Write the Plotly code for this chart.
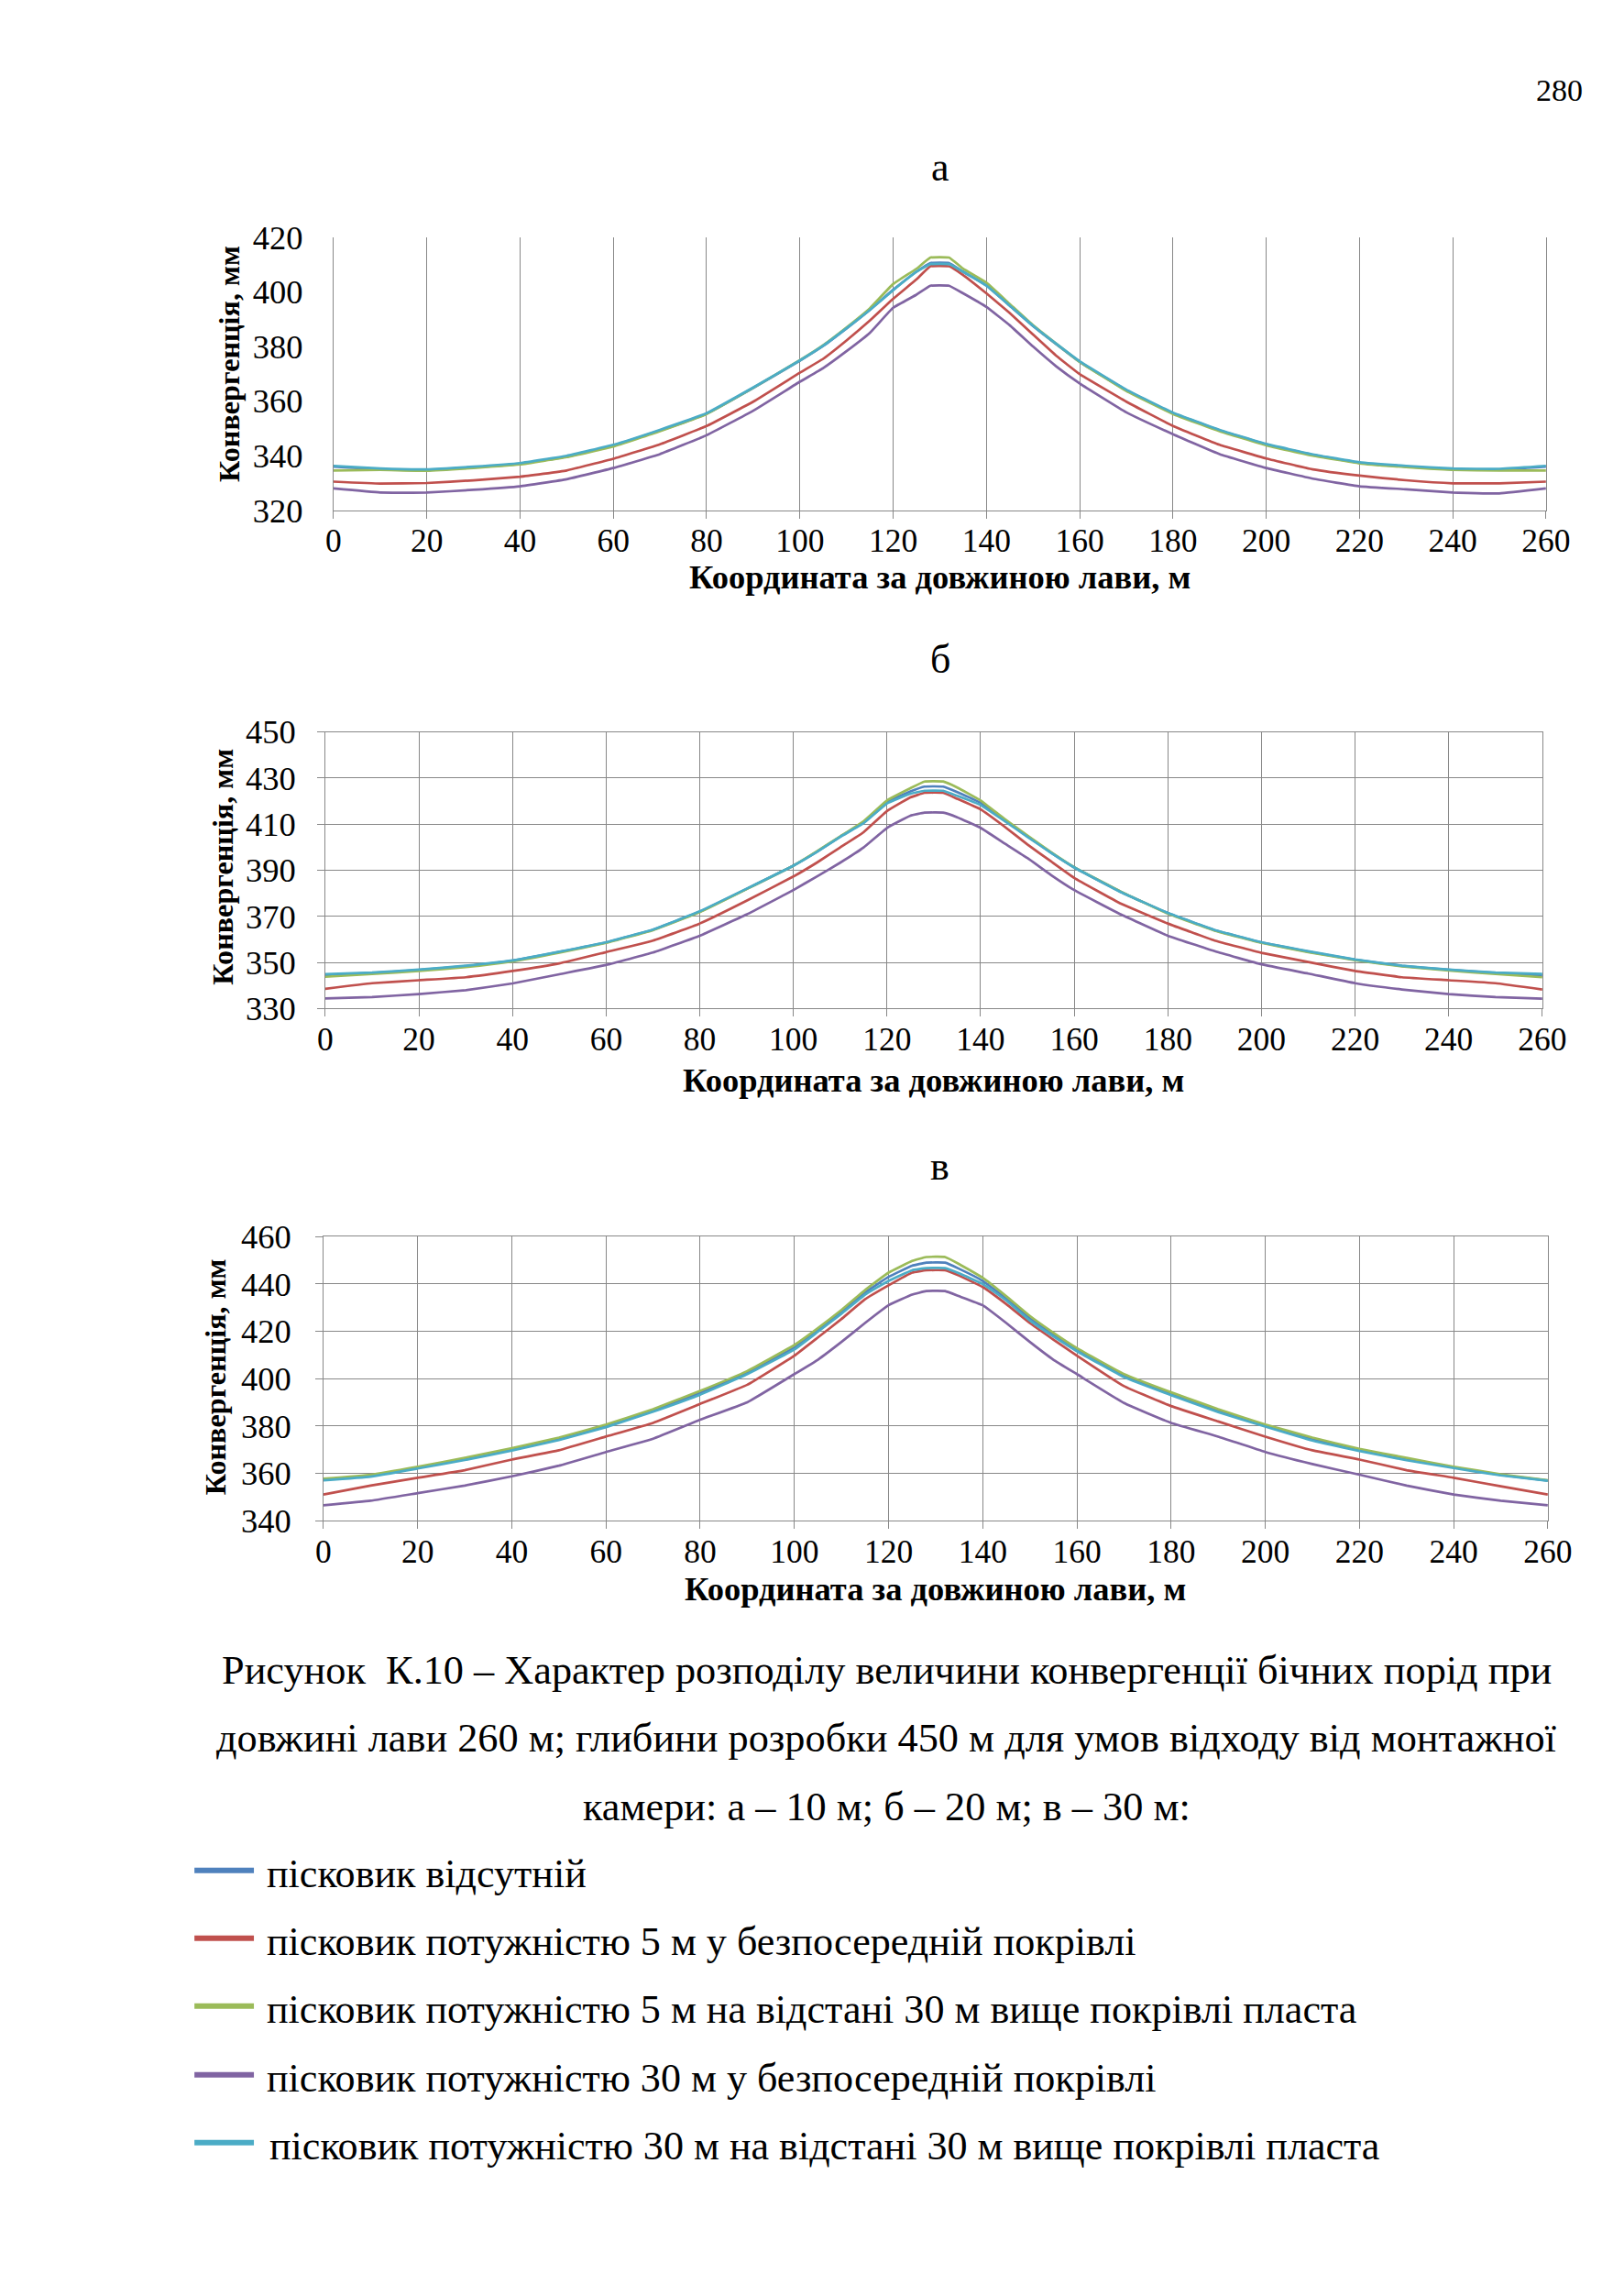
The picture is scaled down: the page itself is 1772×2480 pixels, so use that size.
import plotly.graph_objects as go

# page (viewport) size; the browser body keeps its default 8px margin
PAGE_W, PAGE_H = 1772, 2480
BODY_MARGIN = 8
W, H = PAGE_W - 2 * BODY_MARGIN, PAGE_H - 2 * BODY_MARGIN

# ---------------- data ----------------
x_coord = [0, 10, 20, 30, 40, 50, 60, 70, 80, 90, 100, 105, 110, 115, 120, 125, 128, 132,
           135, 140, 145, 150, 155, 160, 170, 180, 190, 200, 210, 220, 230, 240, 250, 260]

series_names = [
    "пісковик відсутній",
    "пісковик потужністю 5 м у безпосередній покрівлі",
    "пісковик потужністю 5 м на відстані 30 м вище покрівлі пласта",
    "пісковик потужністю 30 м у безпосередній покрівлі",
    "пісковик потужністю 30 м на відстані 30 м вище покрівлі пласта",
]
series_colors = ["#4F81BD", "#C0504D", "#9BBB59", "#8064A2", "#4BACC6"]

# chart а (10 m)
a_blue   = [336.0, 335.0, 334.7, 335.7, 337.0, 339.7, 343.7, 349.2, 355.4, 364.8, 374.8, 380.2, 386.6, 393.4, 400.8, 407.4, 410.6, 410.6, 407.4, 402.4, 395.0, 387.5, 380.8, 374.4, 364.0, 355.6, 349.3, 344.1, 340.3, 337.4, 336.0, 335.0, 334.9, 336.0]
a_red    = [330.5, 329.8, 330.0, 331.0, 332.3, 334.6, 338.9, 344.2, 350.9, 359.8, 370.4, 375.5, 382.2, 389.5, 397.5, 404.6, 409.4, 409.4, 406.2, 399.5, 392.3, 384.4, 376.6, 369.9, 359.8, 350.9, 344.0, 339.0, 335.0, 332.7, 331.0, 329.9, 329.9, 330.5]
a_green  = [334.6, 334.8, 334.5, 335.5, 336.8, 339.5, 343.4, 349.0, 355.3, 364.9, 375.0, 380.5, 387.0, 394.0, 402.9, 408.5, 412.6, 412.6, 408.5, 403.4, 395.6, 387.8, 381.0, 374.4, 363.7, 355.3, 349.0, 343.8, 340.0, 337.2, 335.8, 334.8, 334.6, 334.6]
a_purple = [328.0, 326.5, 326.5, 327.5, 328.8, 331.4, 335.5, 340.6, 347.5, 356.5, 367.1, 372.1, 378.3, 385.0, 394.2, 399.0, 402.3, 402.3, 399.5, 394.5, 387.8, 380.0, 372.7, 366.5, 355.9, 347.9, 340.6, 335.5, 331.6, 328.8, 327.7, 326.5, 326.2, 328.0]
a_cyan   = [336.3, 335.3, 335.0, 336.0, 337.3, 340.0, 344.0, 349.5, 355.6, 365.0, 374.9, 380.3, 386.7, 393.4, 400.6, 407.4, 410.2, 410.2, 407.4, 402.3, 395.0, 387.6, 381.0, 374.6, 364.2, 355.8, 349.5, 344.3, 340.5, 337.6, 336.3, 335.3, 335.2, 336.3]

# chart б (20 m)
b_blue   = [344.5, 345.4, 346.7, 348.4, 350.8, 354.6, 358.7, 364.2, 372.0, 381.9, 392.0, 398.0, 404.6, 410.8, 419.6, 424.2, 426.3, 426.3, 423.9, 419.2, 411.9, 404.8, 397.7, 391.2, 380.6, 371.4, 364.0, 358.7, 354.7, 351.2, 348.5, 346.8, 345.4, 344.4]
b_red    = [338.6, 341.0, 342.3, 343.6, 346.3, 349.6, 354.5, 359.5, 366.9, 376.8, 387.3, 393.3, 399.9, 406.5, 415.7, 421.6, 423.6, 423.6, 421.0, 416.4, 409.1, 401.2, 393.9, 386.7, 375.5, 366.9, 359.5, 354.2, 350.2, 346.3, 343.6, 342.3, 341.0, 338.3]
b_green  = [343.8, 345.0, 346.3, 348.0, 350.5, 354.3, 358.5, 364.0, 371.8, 381.8, 392.0, 398.2, 404.7, 411.3, 420.3, 425.6, 428.5, 428.5, 425.9, 420.3, 412.4, 405.1, 397.9, 391.3, 380.7, 371.2, 363.8, 358.5, 354.5, 351.0, 348.3, 346.5, 345.0, 343.6]
b_purple = [334.4, 335.0, 336.3, 338.0, 340.9, 344.9, 348.9, 354.3, 361.6, 370.8, 381.4, 387.3, 393.3, 399.9, 408.4, 413.7, 415.0, 415.0, 413.0, 408.4, 401.8, 395.3, 388.0, 381.4, 370.8, 361.6, 354.9, 349.2, 345.2, 341.0, 338.3, 336.3, 335.0, 334.3]
b_cyan   = [344.9, 345.6, 346.9, 348.6, 350.9, 354.7, 358.8, 364.3, 372.2, 382.0, 392.0, 397.9, 404.5, 410.4, 419.0, 423.2, 424.5, 424.5, 422.3, 418.3, 411.5, 404.5, 397.6, 391.2, 380.5, 371.5, 364.1, 358.8, 354.9, 351.3, 348.6, 346.9, 345.6, 345.0]

# chart в (30 m)
c_blue   = [357.3, 359.0, 362.4, 366.0, 370.1, 374.5, 380.0, 386.5, 394.0, 402.5, 413.2, 420.5, 428.2, 436.4, 443.0, 447.7, 449.0, 449.0, 446.4, 441.3, 433.9, 425.5, 418.6, 412.2, 401.2, 393.6, 386.4, 380.1, 374.4, 369.8, 366.0, 362.5, 359.3, 356.9]
c_red    = [351.0, 354.8, 358.1, 361.3, 365.8, 369.7, 375.5, 381.3, 389.3, 397.4, 409.7, 417.4, 425.2, 433.5, 439.4, 444.8, 445.8, 445.8, 443.5, 438.7, 431.5, 423.5, 416.5, 409.7, 396.8, 388.4, 381.9, 375.5, 369.7, 365.8, 361.3, 358.1, 354.5, 351.0]
c_green  = [357.7, 359.4, 362.8, 366.5, 370.6, 375.1, 380.6, 387.1, 394.8, 403.2, 414.2, 421.3, 429.0, 437.4, 444.8, 449.7, 451.4, 451.4, 448.4, 442.6, 434.8, 426.5, 419.4, 412.9, 401.9, 394.2, 387.1, 380.6, 375.1, 370.3, 366.5, 362.8, 359.6, 357.0]
c_purple = [346.5, 348.4, 351.6, 354.8, 358.7, 363.2, 369.0, 374.6, 382.6, 390.0, 401.9, 408.0, 415.5, 423.5, 431.0, 435.5, 437.0, 437.0, 434.8, 431.0, 423.5, 415.5, 408.0, 401.9, 389.7, 381.3, 375.5, 369.0, 363.9, 359.4, 354.8, 351.0, 348.4, 346.5]
c_cyan   = [357.0, 358.6, 362.0, 365.6, 369.6, 374.0, 379.5, 386.0, 393.2, 401.9, 412.3, 419.8, 427.4, 435.5, 441.3, 445.8, 446.7, 446.7, 444.5, 440.0, 433.0, 424.6, 417.8, 411.6, 400.6, 393.0, 385.8, 379.7, 373.8, 369.4, 365.5, 362.2, 359.1, 356.8]

x_ticks = list(range(0, 261, 20))
y_ranges = [(320, 420), (330, 450), (340, 460)]
panel_letters = ["а", "б", "в"]
x_title = "Координата за довжиною лави, м"
y_title = "Конвергенція, мм"
caption_lines = [
    "Рисунок  К.10 – Характер розподілу величини конвергенції бічних порід при",
    "довжині лави 260 м; глибини розробки 450 м для умов відходу від монтажної",
    "камери: а – 10 м; б – 20 м; в – 30 м:",
]
page_number = "280"

# ---------------- layout helpers (target picture pixels -> paper) ----------------
# the captured picture is slightly scaled relative to the page; compensate
SX, OX = 0.981, 6.7
SY, OY = 0.984, 20.0

def fx(t):
    return ((t - OX) / SX - BODY_MARGIN) / W

def fy(t):
    return 1 - ((t - OY) / SY - BODY_MARGIN) / H

FONT = "Liberation Serif"
GRID = "#888888"

panels = [
    dict(data=[a_blue, a_red, a_green, a_purple, a_cyan], xpx=(362, 1687), ypx=(259, 557),
         hgrid=False, ystand=25, letter_y=182, xt_y=630, yt_x=248, yt_y=397),
    dict(data=[b_blue, b_red, b_green, b_purple, b_cyan], xpx=(353, 1683), ypx=(799, 1101),
         hgrid=True, ystand=16, letter_y=720, xt_y=1179, yt_x=240, yt_y=946),
    dict(data=[c_blue, c_red, c_green, c_purple, c_cyan], xpx=(351, 1689), ypx=(1350, 1660),
         hgrid=True, ystand=19, letter_y=1273, xt_y=1734, yt_x=233, yt_y=1503),
]

fig = go.Figure()
annotations = []
shapes = []

for i, p in enumerate(panels):
    n = "" if i == 0 else str(i + 1)
    xa, ya = "x" + n, "y" + n
    for k, ys in enumerate(p["data"]):
        fig.add_trace(go.Scatter(x=x_coord, y=ys, mode="lines", name=series_names[k],
                                 line=dict(color=series_colors[k], width=2.7, shape="spline", smoothing=0.3),
                                 xaxis=xa, yaxis=ya, showlegend=False))
    x0, x1 = p["xpx"]
    y0, y1 = p["ypx"]
    full = p["hgrid"]
    yr = y_ranges[i]
    fig.layout["xaxis" + n] = dict(
        domain=[fx(x0), fx(x1)], range=[0, 260], anchor=ya,
        tickvals=x_ticks, ticktext=[str(v) for v in x_ticks],
        showgrid=True, gridcolor=GRID, gridwidth=1, zeroline=False,
        showline=True, linecolor=GRID, linewidth=1, mirror=full,
        ticks="outside", ticklen=8, tickcolor=GRID, ticklabelstandoff=-6,
        tickfont=dict(family=FONT, size=35.5, color="black"),
    )
    fig.layout["yaxis" + n] = dict(
        domain=[fy(y1), fy(y0)], range=list(yr), anchor=xa, tick0=yr[0], dtick=20,
        showgrid=full, gridcolor=GRID, gridwidth=1, zeroline=False,
        showline=True, linecolor=GRID, linewidth=1, mirror=True,
        ticks="outside" if full else "", ticklen=8, tickcolor=GRID,
        ticklabelstandoff=p["ystand"],
        tickfont=dict(family=FONT, size=36.5, color="black"),
    )
    # panel letter
    annotations.append(dict(text=panel_letters[i], x=fx(1025), y=fy(p["letter_y"]),
                            xref="paper", yref="paper", showarrow=False,
                            xanchor="center", yanchor="middle",
                            font=dict(family=FONT, size=44, color="black")))
    # axis titles
    annotations.append(dict(text="<b>" + x_title + "</b>", x=fx((x0 + x1) / 2), y=fy(p["xt_y"]),
                            xref="paper", yref="paper", showarrow=False,
                            xanchor="center", yanchor="middle",
                            font=dict(family=FONT, size=36.5, color="black")))
    annotations.append(dict(text="<b>" + y_title + "</b>", x=fx(p["yt_x"]), y=fy(p["yt_y"]),
                            xref="paper", yref="paper", showarrow=False, textangle=-90,
                            xanchor="center", yanchor="middle",
                            font=dict(family=FONT, size=32.2, color="black")))

# page number
annotations.append(dict(text=page_number, x=fx(1702), y=fy(98), xref="paper", yref="paper",
                        showarrow=False, xanchor="center", yanchor="middle",
                        font=dict(family=FONT, size=34, color="black")))

# caption
for txt, yy in zip(caption_lines, [1824, 1898, 1973]):
    annotations.append(dict(text=txt, x=fx(967), y=fy(yy), xref="paper", yref="paper",
                            showarrow=False, xanchor="center", yanchor="middle",
                            font=dict(family=FONT, size=44.3, color="black")))

# legend (swatches + labels)
legend_y = [2046, 2120, 2194, 2269, 2343]
for k, (name, col, yy) in enumerate(zip(series_names, series_colors, legend_y)):
    shapes.append(dict(type="line", xref="paper", yref="paper",
                       x0=fx(210), x1=fx(275), y0=fy(yy - 4), y1=fy(yy - 4),
                       line=dict(color=col, width=6)))
    annotations.append(dict(text=name, x=fx(287 if k < 4 else 290), y=fy(yy), xref="paper", yref="paper",
                            showarrow=False, xanchor="left", yanchor="middle",
                            font=dict(family=FONT, size=44.1, color="black")))

fig.update_layout(
    width=W, height=H,
    margin=dict(l=0, r=0, t=0, b=0),
    paper_bgcolor="white", plot_bgcolor="white",
    annotations=annotations, shapes=shapes,
    showlegend=False,
)

fig.write_html("out.html")
